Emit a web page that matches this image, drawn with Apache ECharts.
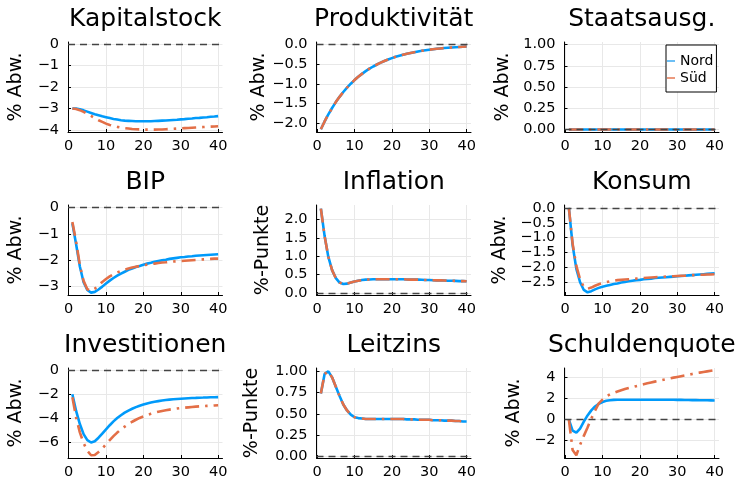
<!DOCTYPE html>
<html>
<head>
<meta charset="utf-8">
<script src="https://cdn.jsdelivr.net/npm/echarts@6/dist/echarts.min.js"></script>
<style>
  html, body { margin: 0; padding: 0; background: #fff; }
  #chart { width: 738px; height: 478px; }
</style>
</head>
<body>
<div id="chart"></div>
<script>
// Perioden 1..40
const periods = Array.from({ length: 40 }, (_, i) => i + 1)
const xTicks = [0, 10, 20, 30, 40]

// Kapitalstock
const kapNord = [-3.00, -3.01, -3.04, -3.09, -3.15, -3.21, -3.27, -3.32, -3.37, -3.41,
  -3.45, -3.49, -3.52, -3.55, -3.57, -3.58, -3.59, -3.60, -3.60, -3.60,
  -3.60, -3.60, -3.59, -3.58, -3.57, -3.56, -3.55, -3.54, -3.53, -3.51,
  -3.50, -3.48, -3.47, -3.45, -3.44, -3.42, -3.41, -3.39, -3.38, -3.36]
const kapSued = [-3.00, -3.03, -3.08, -3.16, -3.25, -3.35, -3.45, -3.55, -3.63, -3.71,
  -3.77, -3.82, -3.86, -3.89, -3.92, -3.94, -3.96, -3.97, -3.98, -3.99,
  -3.99, -3.99, -3.99, -3.98, -3.98, -3.97, -3.96, -3.95, -3.94, -3.93,
  -3.92, -3.91, -3.90, -3.89, -3.88, -3.87, -3.86, -3.85, -3.84, -3.83]

// Produktivität (beide Regionen gleich)
const prodNord = [-2.150, -1.952, -1.773, -1.610, -1.461, -1.327, -1.205, -1.094, -0.994, -0.902,
  -0.819, -0.744, -0.675, -0.613, -0.557, -0.506, -0.459, -0.417, -0.379, -0.344,
  -0.312, -0.283, -0.257, -0.234, -0.212, -0.193, -0.175, -0.159, -0.144, -0.131,
  -0.119, -0.108, -0.098, -0.089, -0.081, -0.073, -0.067, -0.061, -0.055, -0.050]
const prodSued = prodNord

// Staatsausgaben
const staatNord = [0, 0, 0, 0, 0, 0, 0, 0, 0, 0, 0, 0, 0, 0, 0, 0, 0, 0, 0, 0,
  0, 0, 0, 0, 0, 0, 0, 0, 0, 0, 0, 0, 0, 0, 0, 0, 0, 0, 0, 0]
const staatSued = staatNord

// BIP
const bipNord = [-0.60, -1.40, -2.25, -2.85, -3.15, -3.25, -3.22, -3.13, -3.02, -2.90,
  -2.79, -2.69, -2.60, -2.52, -2.45, -2.38, -2.33, -2.27, -2.23, -2.18,
  -2.14, -2.11, -2.07, -2.04, -2.01, -1.99, -1.96, -1.94, -1.92, -1.90,
  -1.89, -1.87, -1.86, -1.84, -1.83, -1.82, -1.81, -1.80, -1.79, -1.78]
const bipSued = [-0.55, -1.30, -2.20, -2.80, -3.12, -3.18, -3.10, -2.97, -2.84, -2.73,
  -2.63, -2.55, -2.48, -2.42, -2.37, -2.33, -2.29, -2.26, -2.23, -2.20,
  -2.18, -2.16, -2.14, -2.12, -2.10, -2.09, -2.07, -2.06, -2.05, -2.04,
  -2.03, -2.02, -2.01, -2.00, -1.99, -1.98, -1.97, -1.96, -1.95, -1.95]

// Inflation (beide gleich)
const inflNord = [2.30, 1.55, 0.98, 0.62, 0.40, 0.28, 0.24, 0.25, 0.28, 0.31,
  0.33, 0.35, 0.36, 0.365, 0.37, 0.37, 0.37, 0.37, 0.37, 0.37,
  0.37, 0.37, 0.37, 0.365, 0.36, 0.36, 0.36, 0.355, 0.35, 0.35,
  0.345, 0.34, 0.34, 0.335, 0.33, 0.33, 0.325, 0.32, 0.32, 0.315]
const inflSued = inflNord

// Konsum
const konNord = [0.00, -1.25, -2.05, -2.50, -2.76, -2.84, -2.80, -2.74, -2.69, -2.65,
  -2.62, -2.59, -2.56, -2.54, -2.51, -2.49, -2.47, -2.45, -2.43, -2.42,
  -2.40, -2.39, -2.38, -2.36, -2.35, -2.34, -2.33, -2.32, -2.31, -2.30,
  -2.29, -2.28, -2.27, -2.26, -2.25, -2.24, -2.23, -2.22, -2.21, -2.20]
const konSued = [0.00, -1.20, -1.95, -2.40, -2.66, -2.72, -2.68, -2.62, -2.57, -2.53,
  -2.50, -2.47, -2.45, -2.43, -2.42, -2.41, -2.40, -2.39, -2.38, -2.37,
  -2.36, -2.35, -2.34, -2.33, -2.32, -2.32, -2.31, -2.30, -2.30, -2.29,
  -2.28, -2.28, -2.27, -2.26, -2.26, -2.25, -2.25, -2.24, -2.24, -2.23]

// Investitionen
const invNord = [-2.00, -3.40, -4.50, -5.35, -5.85, -6.05, -5.95, -5.65, -5.30, -4.95,
  -4.60, -4.28, -4.00, -3.76, -3.55, -3.37, -3.22, -3.08, -2.96, -2.86,
  -2.77, -2.70, -2.63, -2.58, -2.53, -2.49, -2.45, -2.42, -2.40, -2.38,
  -2.36, -2.34, -2.32, -2.31, -2.29, -2.28, -2.27, -2.26, -2.25, -2.24]
const invSued = [-2.25, -3.95, -5.20, -6.10, -6.75, -7.12, -7.10, -6.85, -6.55, -6.20,
  -5.85, -5.52, -5.22, -4.95, -4.72, -4.50, -4.31, -4.14, -3.99, -3.86,
  -3.74, -3.64, -3.55, -3.47, -3.40, -3.34, -3.29, -3.24, -3.20, -3.16,
  -3.13, -3.10, -3.07, -3.04, -3.02, -3.00, -2.98, -2.96, -2.94, -2.92]

// Leitzins (beide gleich)
const zinsNord = [0.74, 0.97, 1.00, 0.93, 0.82, 0.71, 0.61, 0.54, 0.49, 0.46,
  0.45, 0.445, 0.44, 0.44, 0.44, 0.44, 0.44, 0.44, 0.44, 0.44,
  0.44, 0.44, 0.44, 0.435, 0.435, 0.435, 0.43, 0.43, 0.43, 0.43,
  0.425, 0.425, 0.425, 0.42, 0.42, 0.42, 0.415, 0.415, 0.41, 0.41]
const zinsSued = zinsNord

// Schuldenquote
const schuldNord = [0.00, -1.05, -1.25, -0.85, -0.20, 0.40, 0.88, 1.25, 1.50, 1.68,
  1.79, 1.85, 1.88, 1.89, 1.90, 1.90, 1.90, 1.90, 1.90, 1.90,
  1.90, 1.90, 1.90, 1.90, 1.90, 1.89, 1.89, 1.89, 1.89, 1.88,
  1.88, 1.87, 1.87, 1.86, 1.86, 1.85, 1.84, 1.84, 1.83, 1.82]
const schuldSued = [0.00, -2.90, -3.40, -2.40, -1.55, -0.75, 0.10, 0.85, 1.55, 1.90,
  2.20, 2.40, 2.55, 2.68, 2.80, 2.91, 3.01, 3.10, 3.19, 3.28,
  3.37, 3.46, 3.54, 3.62, 3.70, 3.78, 3.86, 3.93, 4.00, 4.07,
  4.14, 4.21, 4.28, 4.35, 4.42, 4.48, 4.54, 4.60, 4.66, 4.72]

const FONT = 'DejaVu Sans'
const NORD = '#009afa'
const SUED = '#e36f47'

const colLeft = [68, 316.5, 564.5]
const rowTop = [42, 205, 368]
const plotW = 154.5
const plotH = 90

const panels = [
  { title: 'Kapitalstock', unit: '% Abw.', nord: kapNord, sued: kapSued, min: -4.1, max: 0.1, ticks: [0, -1, -2, -3, -4], dec: 0, gap: 42 },
  { title: 'Produktivität', unit: '% Abw.', nord: prodNord, sued: prodSued, min: -2.22, max: 0.065, ticks: [0, -0.5, -1, -1.5, -2], dec: 1, gap: 48 },
  { title: 'Staatsausg.', unit: '% Abw.', nord: staatNord, sued: staatSued, min: -0.03, max: 1.03, ticks: [0, 0.25, 0.5, 0.75, 1], dec: 2, gap: 52 },
  { title: 'BIP', unit: '% Abw.', nord: bipNord, sued: bipSued, min: -3.34, max: 0.1, ticks: [0, -1, -2, -3], dec: 0, gap: 42 },
  { title: 'Inflation', unit: '%-Punkte', nord: inflNord, sued: inflSued, min: -0.06, max: 2.4, ticks: [0, 0.5, 1, 1.5, 2], dec: 1, gap: 44 },
  { title: 'Konsum', unit: '% Abw.', nord: konNord, sued: konSued, min: -2.93, max: 0.1, ticks: [0, -0.5, -1, -1.5, -2, -2.5], dec: 1, gap: 55 },
  { title: 'Investitionen', unit: '% Abw.', nord: invNord, sued: invSued, min: -7.35, max: 0.2, ticks: [0, -2, -4, -6], dec: 0, gap: 42 },
  { title: 'Leitzins', unit: '%-Punkte', nord: zinsNord, sued: zinsSued, min: -0.02, max: 1.04, ticks: [0, 0.25, 0.5, 0.75, 1], dec: 2, gap: 55 },
  { title: 'Schuldenquote', unit: '% Abw.', nord: schuldNord, sued: schuldSued, min: -3.66, max: 4.92, ticks: [4, 2, 0, -2], dec: 0, gap: 41 }
]

const fmt = (dec) => (v) => v.toFixed(dec).replace('-', '\u2212')

const grids = []
const xAxes = []
const yAxes = []
const titles = []
const series = []

panels.forEach((p, i) => {
  const left = colLeft[i % 3]
  const top = rowTop[Math.floor(i / 3)]
  grids.push({ left: left, top: top, width: plotW, height: plotH, outerBoundsMode: 'none' })
  titles.push({
    text: p.title,
    left: left + plotW / 2,
    top: top - 35,
    textAlign: 'center',
    padding: 0,
    textStyle: { fontFamily: FONT, fontSize: 25, fontWeight: 'normal', color: '#000' }
  })
  xAxes.push({
    type: 'value',
    gridIndex: i,
    min: -0.17,
    max: 41.17,
    axisLine: { onZero: false, lineStyle: { color: '#000', width: 1 } },
    axisTick: { inside: true, length: 3, customValues: xTicks, lineStyle: { color: '#000' } },
    axisLabel: { customValues: xTicks, margin: 7, fontFamily: FONT, fontSize: 14.5, color: '#000' },
    splitLine: { show: true, lineStyle: { color: '#e8e8e8', width: 1 } }
  })
  yAxes.push({
    type: 'value',
    gridIndex: i,
    min: p.min,
    max: p.max,
    name: p.unit,
    nameLocation: 'middle',
    nameGap: p.gap,
    nameTextStyle: { fontFamily: FONT, fontSize: 19, color: '#000' },
    axisLine: { show: true, onZero: false, lineStyle: { color: '#000', width: 1 } },
    axisTick: { show: true, inside: true, length: 3, customValues: p.ticks, lineStyle: { color: '#000' } },
    axisLabel: { customValues: p.ticks, margin: 9, formatter: fmt(p.dec), fontFamily: FONT, fontSize: 14.5, color: '#000' },
    splitLine: { show: true, lineStyle: { color: '#e8e8e8', width: 1 } }
  })
  series.push({
    name: 'Nord',
    type: 'line',
    xAxisIndex: i,
    yAxisIndex: i,
    data: periods.map((x, k) => [x, p.nord[k]]),
    showSymbol: false,
    color: NORD,
    lineStyle: { color: NORD, width: 2.6 },
    emphasis: { disabled: true }
  })
  series.push({
    name: 'Süd',
    type: 'line',
    xAxisIndex: i,
    yAxisIndex: i,
    data: periods.map((x, k) => [x, p.sued[k]]),
    showSymbol: false,
    color: SUED,
    lineStyle: { color: SUED, width: 2.6, type: [14, 6, 2.5, 6] },
    emphasis: { disabled: true },
    // Nulllinie
    markLine: {
      silent: true,
      symbol: ['none', 'none'],
      label: { show: false },
      lineStyle: { color: '#444', width: 1.4, type: [7, 5] },
      data: [{ yAxis: 0 }]
    }
  })
})

const chart = echarts.init(document.getElementById('chart'))
chart.setOption({
  backgroundColor: '#fff',
  animation: false,
  title: titles,
  grid: grids,
  xAxis: xAxes,
  yAxis: yAxes,
  legend: {
    data: [
      { name: 'Nord', itemStyle: { color: '#6cbff5' } },
      { name: 'Süd', itemStyle: { color: '#ec9a7e' } }
    ],
    left: 666,
    top: 45,
    orient: 'vertical',
    icon: 'rect',
    itemWidth: 8,
    itemHeight: 2,
    itemGap: 1,
    padding: [8, 3, 6, 1],
    borderColor: '#000',
    borderWidth: 1,
    borderRadius: 0,
    backgroundColor: '#fff',
    selectedMode: false,
    textStyle: { fontFamily: FONT, fontSize: 14, color: '#000', lineHeight: 16 }
  },
  series: series
})
</script>
</body>
</html>
